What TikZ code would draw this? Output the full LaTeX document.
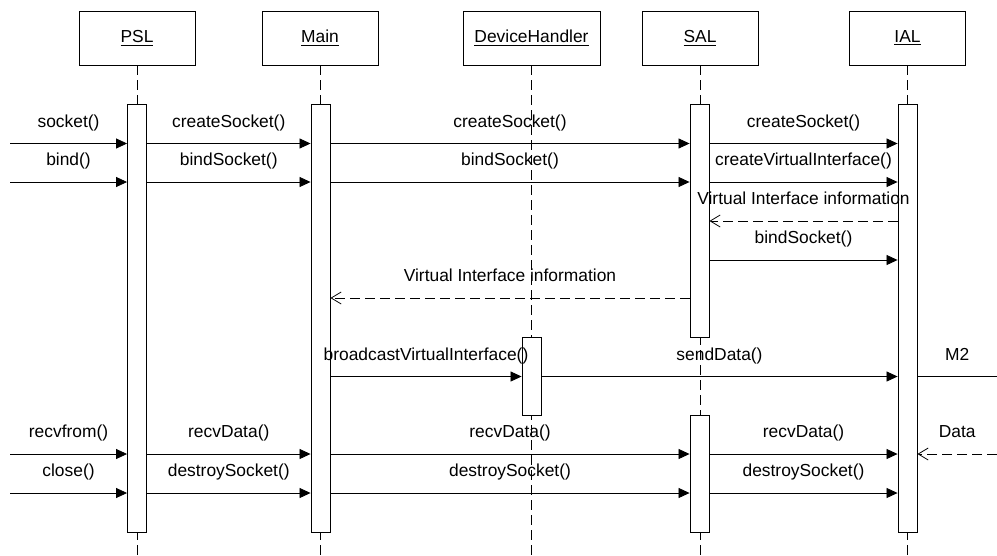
\documentclass[tikz,border=0pt]{standalone}
\usepackage{fontspec}
\setmainfont{Liberation Sans}
\usetikzlibrary{arrows.meta,positioning}
\tikzset{
  sqhead/.style={draw=black, line width=0.5pt, fill=white, minimum width=2.32cm, minimum height=1.08cm, inner sep=0pt},
  sqbar/.style={draw=black, line width=0.5pt, fill=white, minimum width=0.38cm, inner sep=0pt},
  sqlife/.style={line width=0.45pt, dash pattern=on 0.2cm off 0.1cm},
  sqcall/.style={-{Triangle[length=2.2mm,width=2mm]}, line width=0.45pt},
  sqreturn/.style={-{Straight Barb[length=2mm,width=2.4mm]}, line width=0.45pt, dash pattern=on 0.2cm off 0.1cm},
  sqlabel/.style={midway, anchor=base, yshift=0.33cm, inner sep=0pt}
}

\begin{document}
\begin{tikzpicture}[x=0.02cm, y=-0.02cm, font=\fontsize{9.9}{12}\selectfont]
  \useasboundingbox (0,0) rectangle (997,555);
  % participants
  \node[sqhead] (psl) at (137,38) {\underline{PSL}};
  \node[sqhead] (main) at (320,38) {\underline{Main}};
  \node[sqhead, minimum width=2.74cm] (dev) at (531.5,38) {\underline{DeviceHandler}};
  \node[sqhead] (sal) at (700,38) {\underline{SAL}};
  \node[sqhead] (ial) at (907.5,38) {\underline{IAL}};
  \coordinate (bottom) at (0,555);
  \coordinate (lft) at (10,0);
  \coordinate (rgt) at (997,0);
  \draw[sqlife] (psl) -- (psl |- bottom);
  \draw[sqlife] (main) -- (main |- bottom);
  \draw[sqlife] (dev) -- (dev |- bottom);
  \draw[sqlife] (sal) -- (sal |- bottom);
  \draw[sqlife] (ial) -- (ial |- bottom);
  % activations
  \node[sqbar, minimum height=8.56cm] (pslbar) at (137,318) {};
  \node[sqbar, minimum height=8.56cm] (mainbar) at (320.5,318) {};
  \node[sqbar, minimum height=4.66cm] (salbar) at (699.5,220.5) {};
  \node[sqbar, minimum height=2.34cm] (salbarb) at (699.5,473.5) {};
  \node[sqbar, minimum height=1.56cm] (devbar) at (531.5,376) {};
  \node[sqbar, minimum height=8.56cm] (ialbar) at (907.5,318) {};
  % rows
  \coordinate (r1) at (0,143.5);
  \coordinate (r2) at (0,182);
  \coordinate (r3) at (0,221);
  \coordinate (r4) at (0,260);
  \coordinate (r5) at (0,298);
  \coordinate (r6) at (0,376.5);
  \coordinate (r7) at (0,454);
  \coordinate (r8) at (0,493);
  % socket / bind
  \draw[sqcall] (lft |- r1) -- (pslbar.west |- r1) node[sqlabel] {socket()};
  \draw[sqcall] (pslbar.east |- r1) -- (mainbar.west |- r1) node[sqlabel] {createSocket()};
  \draw[sqcall] (mainbar.east |- r1) -- (salbar.west |- r1) node[sqlabel] {createSocket()};
  \draw[sqcall] (salbar.east |- r1) -- (ialbar.west |- r1) node[sqlabel] {createSocket()};
  \draw[sqcall] (lft |- r2) -- (pslbar.west |- r2) node[sqlabel] {bind()};
  \draw[sqcall] (pslbar.east |- r2) -- (mainbar.west |- r2) node[sqlabel] {bindSocket()};
  \draw[sqcall] (mainbar.east |- r2) -- (salbar.west |- r2) node[sqlabel] {bindSocket()};
  \draw[sqcall] (salbar.east |- r2) -- (ialbar.west |- r2) node[sqlabel] {createVirtualInterface()};
  \draw[sqreturn] (ialbar.west |- r3) -- (salbar.east |- r3) node[sqlabel] {Virtual Interface information};
  \draw[sqcall] (salbar.east |- r4) -- (ialbar.west |- r4) node[sqlabel] {bindSocket()};
  \draw[sqreturn] (salbar.west |- r5) -- (mainbar.east |- r5) node[sqlabel] {Virtual Interface information};
  % broadcast / send
  \draw[sqcall] (mainbar.east |- r6) -- (devbar.west |- r6) node[sqlabel] {broadcastVirtualInterface()};
  \draw[sqcall] (devbar.east |- r6) -- (ialbar.west |- r6) node[sqlabel] {sendData()};
  \draw[line width=0.45pt] (ialbar.east |- r6) -- (rgt |- r6) node[sqlabel] {M2};
  % receive / close
  \draw[sqcall] (lft |- r7) -- (pslbar.west |- r7) node[sqlabel] {recvfrom()};
  \draw[sqcall] (pslbar.east |- r7) -- (mainbar.west |- r7) node[sqlabel] {recvData()};
  \draw[sqcall] (mainbar.east |- r7) -- (salbarb.west |- r7) node[sqlabel] {recvData()};
  \draw[sqcall] (salbarb.east |- r7) -- (ialbar.west |- r7) node[sqlabel] {recvData()};
  \draw[sqreturn] (rgt |- r7) -- (ialbar.east |- r7) node[sqlabel] {Data};
  \draw[sqcall] (lft |- r8) -- (pslbar.west |- r8) node[sqlabel] {close()};
  \draw[sqcall] (pslbar.east |- r8) -- (mainbar.west |- r8) node[sqlabel] {destroySocket()};
  \draw[sqcall] (mainbar.east |- r8) -- (salbarb.west |- r8) node[sqlabel] {destroySocket()};
  \draw[sqcall] (salbarb.east |- r8) -- (ialbar.west |- r8) node[sqlabel] {destroySocket()};
\end{tikzpicture}
\end{document}
